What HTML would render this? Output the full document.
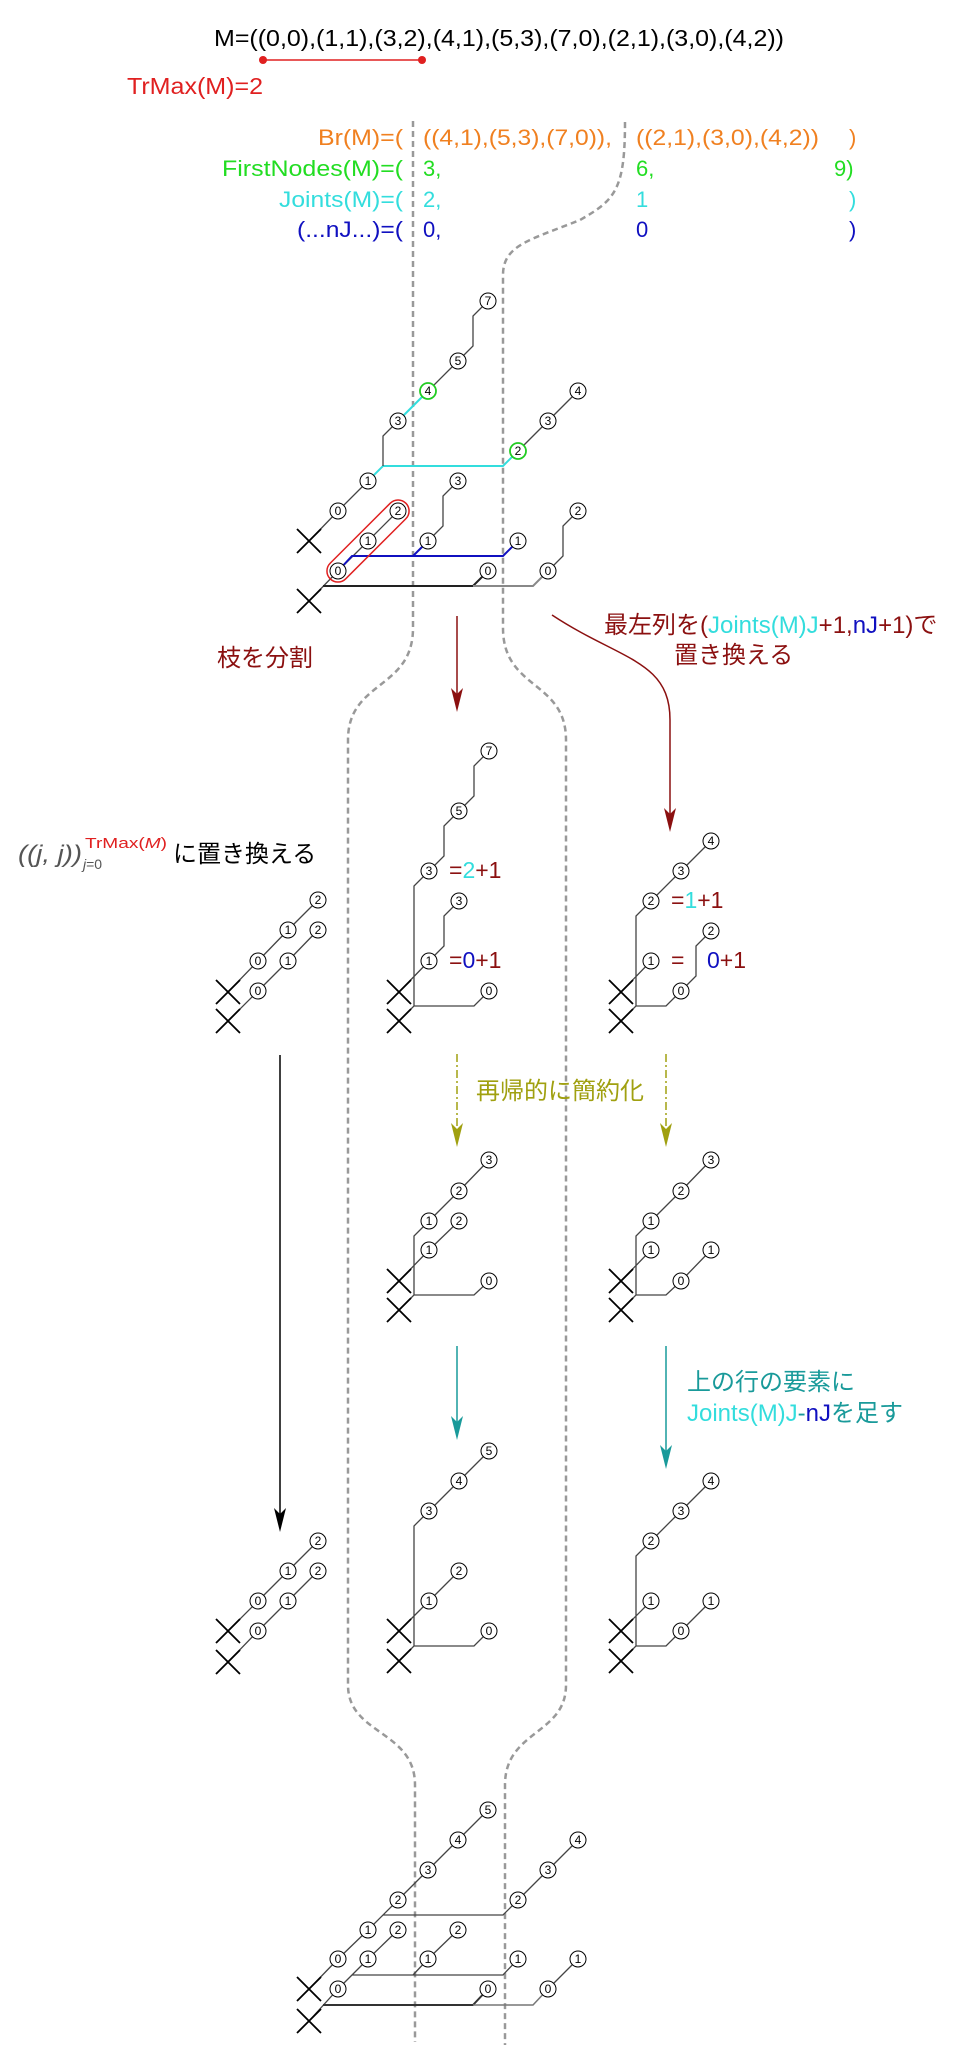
<!DOCTYPE html>
<html><head><meta charset="utf-8"><style>
html,body{margin:0;padding:0;background:#fff}
svg{display:block}
text{font-family:"Liberation Sans","Noto Sans CJK JP",sans-serif}
.n circle{fill:#fff;stroke:#000;stroke-width:1}
.n text{font-size:12px;text-anchor:middle;dominant-baseline:central}
.l{fill:none;stroke:#444;stroke-width:1.3}
.x{stroke:#000;stroke-width:1.8}
.d{fill:none;stroke:#999;stroke-width:2.5;stroke-dasharray:6 4}
</style></head><body>
<svg width="960" height="2060" viewBox="0 0 960 2060" xmlns="http://www.w3.org/2000/svg">

<!-- header text -->
<text x="214" y="46" font-size="23" textLength="570" lengthAdjust="spacingAndGlyphs">M=((0,0),(1,1),(3,2),(4,1),(5,3),(7,0),(2,1),(3,0),(4,2))</text>
<line x1="263" y1="60" x2="422" y2="60" stroke="#e02020" stroke-width="1.5"/>
<circle cx="263" cy="60" r="4" fill="#e02020"/><circle cx="422" cy="60" r="4" fill="#e02020"/>
<text x="127" y="94" font-size="23" fill="#e02020" textLength="136" lengthAdjust="spacingAndGlyphs">TrMax(M)=2</text>

<g font-size="22">
<text x="318" y="145" fill="#f08020" textLength="85" lengthAdjust="spacingAndGlyphs">Br(M)=(</text>
<text x="423" y="145" fill="#f08020" textLength="189" lengthAdjust="spacingAndGlyphs">((4,1),(5,3),(7,0)),</text>
<text x="636" y="145" fill="#f08020" textLength="183" lengthAdjust="spacingAndGlyphs">((2,1),(3,0),(4,2))</text>
<text x="849" y="145" fill="#f08020">)</text>
<text x="222" y="176" fill="#22dd22" textLength="181" lengthAdjust="spacingAndGlyphs">FirstNodes(M)=(</text>
<text x="423" y="176" fill="#22dd22">3,</text>
<text x="636" y="176" fill="#22dd22">6,</text>
<text x="834" y="176" fill="#22dd22">9)</text>
<text x="279" y="207" fill="#33dddd" textLength="124" lengthAdjust="spacingAndGlyphs">Joints(M)=(</text>
<text x="423" y="207" fill="#33dddd">2,</text>
<text x="636" y="207" fill="#33dddd">1</text>
<text x="849" y="207" fill="#33dddd">)</text>
<text x="297" y="237" fill="#1010c0" textLength="106" lengthAdjust="spacingAndGlyphs">(...nJ...)=(</text>
<text x="423" y="237" fill="#1010c0">0,</text>
<text x="636" y="237" fill="#1010c0">0</text>
<text x="849" y="237" fill="#1010c0">)</text>
</g>

<!-- dashed separators -->
<path class="d" d="M413,121 L413,628 C413,690 348,680 348,740 L348,1685 C348,1735 415,1730 415,1785 L415,2042"/>
<path class="d" d="M625,122 C625,190 615,200 580,220 C530,240 503,245 503,275 L503,628 C503,690 566,680 566,740 L566,1685 C566,1735 505,1730 505,1785 L505,2045"/>

<!-- main tree -->
<g>
<path d="M309,541 L338,511 L368,481" class="l" stroke="#000"/>
<path d="M368,481 L383,466 L503,466 L518,451" fill="none" stroke="#33dddd" stroke-width="2"/>
<path d="M383,466 L383,436 L398,421" class="l"/>
<path d="M398,421 L428,391" fill="none" stroke="#33dddd" stroke-width="2"/>
<path d="M428,391 L458,361 L473,346 L473,316 L488,301" class="l"/>
<path d="M518,451 L548,421 L578,391" class="l"/>
<path d="M309,601 L338,571 L368,541 L398,511" class="l"/>
<path d="M338,571 L352,556 L503,556 L518,541 M413,556 L428,541" fill="none" stroke="#1010c0" stroke-width="2"/>
<path d="M428,541 L443,526 L443,496 L458,481" class="l"/>
<path d="M323,586 L473,586 L488,571" fill="none" stroke="#222" stroke-width="2"/>
<path d="M473,586 L533,586 L548,571" fill="none" stroke="#888" stroke-width="2"/>
<path d="M548,571 L563,556 L563,526 L578,511" class="l"/>
<rect x="314.5" y="530" width="107" height="22" rx="11" transform="rotate(-45 368 541)" fill="none" stroke="#e02020" stroke-width="1.5"/>
<path class="x" d="M297,529 L321,553 M321,529 L297,553 M297,589 L321,613 M321,589 L297,613"/>
<g class="n"><circle cx="338" cy="511" r="8"/><text x="338" y="511">0</text></g>
<g class="n"><circle cx="368" cy="481" r="8"/><text x="368" y="481">1</text></g>
<g class="n"><circle cx="398" cy="421" r="8"/><text x="398" y="421">3</text></g>
<g class="n"><circle cx="428" cy="391" r="8" style="stroke:#22cc22;stroke-width:1.8"/><text x="428" y="391">4</text></g>
<g class="n"><circle cx="458" cy="361" r="8"/><text x="458" y="361">5</text></g>
<g class="n"><circle cx="488" cy="301" r="8"/><text x="488" y="301">7</text></g>
<g class="n"><circle cx="518" cy="451" r="8" style="stroke:#22cc22;stroke-width:1.8"/><text x="518" y="451">2</text></g>
<g class="n"><circle cx="548" cy="421" r="8"/><text x="548" y="421">3</text></g>
<g class="n"><circle cx="578" cy="391" r="8"/><text x="578" y="391">4</text></g>
<g class="n"><circle cx="338" cy="571" r="8"/><text x="338" y="571">0</text></g>
<g class="n"><circle cx="368" cy="541" r="8"/><text x="368" y="541">1</text></g>
<g class="n"><circle cx="398" cy="511" r="8"/><text x="398" y="511">2</text></g>
<g class="n"><circle cx="428" cy="541" r="8"/><text x="428" y="541">1</text></g>
<g class="n"><circle cx="458" cy="481" r="8"/><text x="458" y="481">3</text></g>
<g class="n"><circle cx="518" cy="541" r="8"/><text x="518" y="541">1</text></g>
<g class="n"><circle cx="488" cy="571" r="8"/><text x="488" y="571">0</text></g>
<g class="n"><circle cx="548" cy="571" r="8"/><text x="548" y="571">0</text></g>
<g class="n"><circle cx="578" cy="511" r="8"/><text x="578" y="511">2</text></g>
</g>

<!-- arrows row 1 -->
<line x1="457" y1="616" x2="457" y2="700" stroke="#8b1010" stroke-width="1.5"/>
<path d="M451,688 L457,712 L463,688 L457,694 Z" fill="#8b1010"/>
<path d="M552,615 C620,660 670,660 670,720 L670,820" fill="none" stroke="#8b1010" stroke-width="1.5"/>
<path d="M664,808 L670,832 L676,808 L670,814 Z" fill="#8b1010"/>
<text x="217" y="666" font-size="24" fill="#8b1010">枝を分割</text>
<text x="604" y="633" font-size="24" fill="#8b1010">最左列を(<tspan fill="#33dddd">Joints(M)J</tspan>+1,<tspan fill="#1010c0">nJ</tspan>+1)で</text>
<text x="674" y="663" font-size="24" fill="#8b1010">置き換える</text>

<!-- formula -->
<text x="18" y="862" font-size="24" fill="#555" font-family="Liberation Serif,serif" font-style="italic" textLength="64" lengthAdjust="spacingAndGlyphs">((j, j))</text>
<text x="85" y="848" font-size="15" fill="#e02020" font-family="Liberation Serif,serif" textLength="82" lengthAdjust="spacingAndGlyphs">TrMax(<tspan font-style="italic">M</tspan>)</text>
<text x="83" y="869" font-size="14" fill="#555" font-family="Liberation Serif,serif"><tspan font-style="italic">j</tspan>=0</text>
<text x="173" y="862" font-size="24">に置き換える</text>

<!-- left trees row 1 -->
<g>
<path class="l" d="M228,992 L258,961 L288,930 L318,900 M228,1021 L258,991 L288,961 L318,930"/>
<path class="x" d="M216,980 L240,1004 M240,980 L216,1004 M216,1009 L240,1033 M240,1009 L216,1033"/>
<g class="n"><circle cx="258" cy="961" r="8"/><text x="258" y="961">0</text></g>
<g class="n"><circle cx="288" cy="930" r="8"/><text x="288" y="930">1</text></g>
<g class="n"><circle cx="318" cy="900" r="8"/><text x="318" y="900">2</text></g>
<g class="n"><circle cx="258" cy="991" r="8"/><text x="258" y="991">0</text></g>
<g class="n"><circle cx="288" cy="961" r="8"/><text x="288" y="961">1</text></g>
<g class="n"><circle cx="318" cy="930" r="8"/><text x="318" y="930">2</text></g>
</g>

<!-- middle tree row 1 -->
<g>
<path class="l" d="M399,1021 L414,1006 L414,886 L429,871 L444,856 L444,826 L459,811 L474,796 L474,766 L489,751 M414,1006 L474,1006 L489,991 M399,992 L429,961 L444,946 L444,916 L459,901"/>
<path class="x" d="M387,980 L411,1004 M411,980 L387,1004 M387,1009 L411,1033 M411,1009 L387,1033"/>
<g class="n"><circle cx="489" cy="751" r="8"/><text x="489" y="751">7</text></g>
<g class="n"><circle cx="459" cy="811" r="8"/><text x="459" y="811">5</text></g>
<g class="n"><circle cx="429" cy="871" r="8"/><text x="429" y="871">3</text></g>
<g class="n"><circle cx="459" cy="901" r="8"/><text x="459" y="901">3</text></g>
<g class="n"><circle cx="429" cy="961" r="8"/><text x="429" y="961">1</text></g>
<g class="n"><circle cx="489" cy="991" r="8"/><text x="489" y="991">0</text></g>
<text x="449" y="878" font-size="23" fill="#8b1010">=<tspan fill="#33dddd">2</tspan>+1</text>
<text x="449" y="968" font-size="23" fill="#8b1010">=<tspan fill="#1010c0">0</tspan>+1</text>
</g>

<!-- right tree row 1 -->
<g>
<path class="l" d="M621,1021 L636,1006 L636,916 L651,901 L681,871 L711,841 M636,1006 L666,1006 L681,991 L696,976 L696,946 L711,931 M621,992 L651,961"/>
<path class="x" d="M609,980 L633,1004 M633,980 L609,1004 M609,1009 L633,1033 M633,1009 L609,1033"/>
<g class="n"><circle cx="711" cy="841" r="8"/><text x="711" y="841">4</text></g>
<g class="n"><circle cx="681" cy="871" r="8"/><text x="681" y="871">3</text></g>
<g class="n"><circle cx="651" cy="901" r="8"/><text x="651" y="901">2</text></g>
<g class="n"><circle cx="711" cy="931" r="8"/><text x="711" y="931">2</text></g>
<g class="n"><circle cx="651" cy="961" r="8"/><text x="651" y="961">1</text></g>
<g class="n"><circle cx="681" cy="991" r="8"/><text x="681" y="991">0</text></g>
<text x="671" y="908" font-size="23" fill="#8b1010">=<tspan fill="#33dddd">1</tspan>+1</text>
<text x="671" y="968" font-size="23" fill="#8b1010">=</text>
<text x="707" y="968" font-size="23" fill="#8b1010"><tspan fill="#1010c0">0</tspan>+1</text>
</g>

<!-- black long arrow -->
<line x1="280" y1="1055" x2="280" y2="1520" stroke="#000" stroke-width="1.5"/>
<path d="M274,1508 L280,1532 L286,1508 L280,1514 Z" fill="#000"/>

<!-- olive arrows -->
<g stroke="#a0a010" stroke-width="1.5" stroke-dasharray="8 3 2 3">
<line x1="457" y1="1054" x2="457" y2="1135"/>
<line x1="666" y1="1054" x2="666" y2="1135"/>
</g>
<path d="M451,1123 L457,1147 L463,1123 L457,1129 Z" fill="#a0a010"/>
<path d="M660,1123 L666,1147 L672,1123 L666,1129 Z" fill="#a0a010"/>
<text x="476" y="1099" font-size="24" fill="#a0a010">再帰的に簡約化</text>

<!-- middle tree row 2 -->
<g>
<path class="l" d="M399,1310 L414,1295 L414,1236 L429,1221 L459,1191 L489,1160 M414,1295 L474,1295 L489,1281 M399,1281 L429,1250 L459,1221"/>
<path class="x" d="M387,1269 L411,1293 M411,1269 L387,1293 M387,1298 L411,1322 M411,1298 L387,1322"/>
<g class="n"><circle cx="489" cy="1160" r="8"/><text x="489" y="1160">3</text></g>
<g class="n"><circle cx="459" cy="1191" r="8"/><text x="459" y="1191">2</text></g>
<g class="n"><circle cx="429" cy="1221" r="8"/><text x="429" y="1221">1</text></g>
<g class="n"><circle cx="459" cy="1221" r="8"/><text x="459" y="1221">2</text></g>
<g class="n"><circle cx="429" cy="1250" r="8"/><text x="429" y="1250">1</text></g>
<g class="n"><circle cx="489" cy="1281" r="8"/><text x="489" y="1281">0</text></g>
</g>

<!-- right tree row 2 -->
<g>
<path class="l" d="M621,1310 L636,1295 L636,1236 L651,1221 L681,1191 L711,1160 M636,1295 L666,1295 L681,1281 L711,1250 M621,1281 L651,1250"/>
<path class="x" d="M609,1269 L633,1293 M633,1269 L609,1293 M609,1298 L633,1322 M633,1298 L609,1322"/>
<g class="n"><circle cx="711" cy="1160" r="8"/><text x="711" y="1160">3</text></g>
<g class="n"><circle cx="681" cy="1191" r="8"/><text x="681" y="1191">2</text></g>
<g class="n"><circle cx="651" cy="1221" r="8"/><text x="651" y="1221">1</text></g>
<g class="n"><circle cx="651" cy="1250" r="8"/><text x="651" y="1250">1</text></g>
<g class="n"><circle cx="711" cy="1250" r="8"/><text x="711" y="1250">1</text></g>
<g class="n"><circle cx="681" cy="1281" r="8"/><text x="681" y="1281">0</text></g>
</g>

<!-- teal arrows -->
<line x1="457" y1="1346" x2="457" y2="1428" stroke="#199a9a" stroke-width="1.5"/>
<path d="M451,1416 L457,1440 L463,1416 L457,1422 Z" fill="#199a9a"/>
<line x1="666" y1="1346" x2="666" y2="1457" stroke="#199a9a" stroke-width="1.5"/>
<path d="M660,1445 L666,1469 L672,1445 L666,1451 Z" fill="#199a9a"/>
<text x="687" y="1390" font-size="24" fill="#199a9a">上の行の要素に</text>
<text x="687" y="1421" font-size="24" fill="#199a9a"><tspan fill="#33dddd">Joints(M)J</tspan>-<tspan fill="#1010c0">nJ</tspan>を足す</text>

<!-- left tree final -->
<g>
<path class="l" d="M228,1631 L258,1601 L288,1571 L318,1541 M228,1662 L258,1631 L288,1601 L318,1571"/>
<path class="x" d="M216,1619 L240,1643 M240,1619 L216,1643 M216,1650 L240,1674 M240,1650 L216,1674"/>
<g class="n"><circle cx="258" cy="1601" r="8"/><text x="258" y="1601">0</text></g>
<g class="n"><circle cx="288" cy="1571" r="8"/><text x="288" y="1571">1</text></g>
<g class="n"><circle cx="318" cy="1541" r="8"/><text x="318" y="1541">2</text></g>
<g class="n"><circle cx="258" cy="1631" r="8"/><text x="258" y="1631">0</text></g>
<g class="n"><circle cx="288" cy="1601" r="8"/><text x="288" y="1601">1</text></g>
<g class="n"><circle cx="318" cy="1571" r="8"/><text x="318" y="1571">2</text></g>
</g>

<!-- middle tree final -->
<g>
<path class="l" d="M399,1661 L414,1646 L414,1526 L429,1511 L459,1481 L489,1451 M414,1646 L474,1646 L489,1631 M399,1631 L429,1601 L459,1571"/>
<path class="x" d="M387,1619 L411,1643 M411,1619 L387,1643 M387,1649 L411,1673 M411,1649 L387,1673"/>
<g class="n"><circle cx="489" cy="1451" r="8"/><text x="489" y="1451">5</text></g>
<g class="n"><circle cx="459" cy="1481" r="8"/><text x="459" y="1481">4</text></g>
<g class="n"><circle cx="429" cy="1511" r="8"/><text x="429" y="1511">3</text></g>
<g class="n"><circle cx="459" cy="1571" r="8"/><text x="459" y="1571">2</text></g>
<g class="n"><circle cx="429" cy="1601" r="8"/><text x="429" y="1601">1</text></g>
<g class="n"><circle cx="489" cy="1631" r="8"/><text x="489" y="1631">0</text></g>
</g>

<!-- right tree final -->
<g>
<path class="l" d="M621,1661 L636,1646 L636,1556 L651,1541 L681,1511 L711,1481 M636,1646 L666,1646 L681,1631 L711,1601 M621,1631 L651,1601"/>
<path class="x" d="M609,1619 L633,1643 M633,1619 L609,1643 M609,1649 L633,1673 M633,1649 L609,1673"/>
<g class="n"><circle cx="711" cy="1481" r="8"/><text x="711" y="1481">4</text></g>
<g class="n"><circle cx="681" cy="1511" r="8"/><text x="681" y="1511">3</text></g>
<g class="n"><circle cx="651" cy="1541" r="8"/><text x="651" y="1541">2</text></g>
<g class="n"><circle cx="651" cy="1601" r="8"/><text x="651" y="1601">1</text></g>
<g class="n"><circle cx="711" cy="1601" r="8"/><text x="711" y="1601">1</text></g>
<g class="n"><circle cx="681" cy="1631" r="8"/><text x="681" y="1631">0</text></g>
</g>

<!-- bottom tree -->
<g>
<path class="l" d="M309,1989 L338,1959 L368,1930 L398,1900 L428,1870 L458,1840 L488,1810 M368,1930 L383,1915 L503,1915 L518,1900 L548,1870 L578,1840"/>
<path class="l" d="M309,2021 L338,1989 L368,1959 L398,1930 M338,1989 L352,1975 L503,1975 L518,1959 M413,1975 L428,1959 L458,1930 M548,1989 L578,1959"/>
<path d="M323,2005 L473,2005 L488,1989" fill="none" stroke="#333" stroke-width="2"/>
<path d="M473,2005 L533,2005 L548,1989" fill="none" stroke="#777" stroke-width="1.5"/>
<path class="x" d="M297,1977 L321,2001 M321,1977 L297,2001 M297,2009 L321,2033 M321,2009 L297,2033"/>
<g class="n"><circle cx="338" cy="1959" r="8"/><text x="338" y="1959">0</text></g>
<g class="n"><circle cx="368" cy="1930" r="8"/><text x="368" y="1930">1</text></g>
<g class="n"><circle cx="398" cy="1900" r="8"/><text x="398" y="1900">2</text></g>
<g class="n"><circle cx="428" cy="1870" r="8"/><text x="428" y="1870">3</text></g>
<g class="n"><circle cx="458" cy="1840" r="8"/><text x="458" y="1840">4</text></g>
<g class="n"><circle cx="488" cy="1810" r="8"/><text x="488" y="1810">5</text></g>
<g class="n"><circle cx="518" cy="1900" r="8"/><text x="518" y="1900">2</text></g>
<g class="n"><circle cx="548" cy="1870" r="8"/><text x="548" y="1870">3</text></g>
<g class="n"><circle cx="578" cy="1840" r="8"/><text x="578" y="1840">4</text></g>
<g class="n"><circle cx="338" cy="1989" r="8"/><text x="338" y="1989">0</text></g>
<g class="n"><circle cx="368" cy="1959" r="8"/><text x="368" y="1959">1</text></g>
<g class="n"><circle cx="398" cy="1930" r="8"/><text x="398" y="1930">2</text></g>
<g class="n"><circle cx="428" cy="1959" r="8"/><text x="428" y="1959">1</text></g>
<g class="n"><circle cx="458" cy="1930" r="8"/><text x="458" y="1930">2</text></g>
<g class="n"><circle cx="518" cy="1959" r="8"/><text x="518" y="1959">1</text></g>
<g class="n"><circle cx="488" cy="1989" r="8"/><text x="488" y="1989">0</text></g>
<g class="n"><circle cx="548" cy="1989" r="8"/><text x="548" y="1989">0</text></g>
<g class="n"><circle cx="578" cy="1959" r="8"/><text x="578" y="1959">1</text></g>
</g>
</svg>
</body></html>
